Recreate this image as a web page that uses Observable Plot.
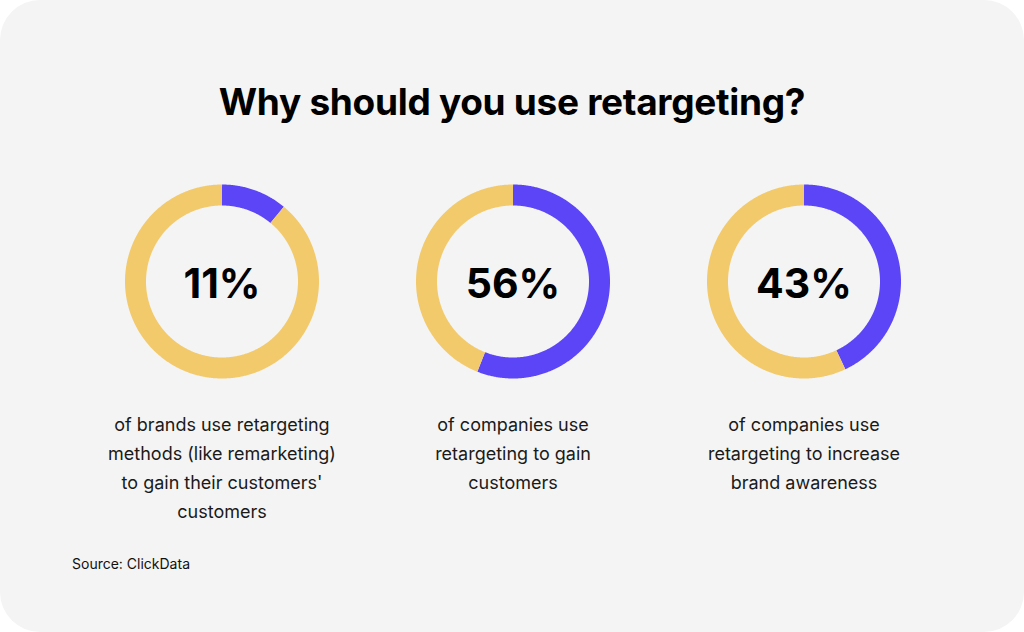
<!DOCTYPE html>
<html>
<head>
<meta charset="utf-8">
<script src="https://cdn.jsdelivr.net/npm/d3@7"></script>
<script src="https://cdn.jsdelivr.net/npm/@observablehq/plot@0.6"></script>
<style>
  html, body { margin: 0; padding: 0; background: #ffffff; }
  #card { position: relative; width: 1024px; height: 632px; background: #f4f4f4; border-radius: 40px; overflow: hidden; font-family: Inter, "Noto Sans", sans-serif; }
  #title { position: absolute; left: 0; right: 0; top: 83px; text-align: center; font-size: 37px; line-height: 1; font-weight: 700; color: #000; letter-spacing: -0.3px; }
  #chart { position: absolute; left: 0; top: 150px; }
  #source { position: absolute; left: 72px; top: 557px; font-size: 14px; line-height: 1; color: #111; }
</style>
</head>
<body>
<div id="card">
  <div id="title">Why should you use retargeting?</div>
  <div id="chart"></div>
  <div id="source">Source: ClickData</div>
</div>
<script>
// ---- data ----
const categories = ["brands", "gain", "awareness"];
const percents = [11, 56, 43];
const captions = [
  "of brands use retargeting\nmethods (like remarketing)\nto gain their customers'\ncustomers",
  "of companies use\nretargeting to gain\ncustomers",
  "of companies use\nretargeting to increase\nbrand awareness"
];
const parts = ["share", "rest"];
const partColors = ["#5b45f6", "#f2ca6b"];

// ---- build table ----
const stats = categories.map((c, i) => ({cat: c, pct: percents[i], caption: captions[i]}));

// arc points sampled along each segment (clockwise from 12 o'clock)
const R = 86.5; // radius of stroke centre line, in pixel units of the scales
const arcs = [];
for (const s of stats) {
  const segs = [["share", 0, s.pct], ["rest", s.pct, 100]];
  for (const [part, a0, a1] of segs) {
    const n = Math.max(2, Math.ceil((a1 - a0) * 3.6 * 2));
    for (let k = 0; k <= n; k++) {
      const t = (a0 + (a1 - a0) * k / n) / 100 * 2 * Math.PI;
      arcs.push({cat: s.cat, part, key: s.cat + part, x: R * Math.sin(t), y: R * Math.cos(t)});
    }
  }
}

const H = 380;
const chart = Plot.plot({
  width: 1024,
  height: H,
  marginTop: 0, marginBottom: 0, marginLeft: 75.5, marginRight: 75.5,
  style: {background: "transparent", fontFamily: "Inter, 'Noto Sans', sans-serif", overflow: "visible"},
  fx: {domain: categories, padding: 0, axis: null},
  x: {domain: [-145.5, 145.5], axis: null},
  y: {domain: [-(H - 131), 131], axis: null},
  color: {domain: parts, range: partColors},
  marks: [
    Plot.line(arcs, {fx: "cat", x: "x", y: "y", z: "key", stroke: "part", strokeWidth: 21, strokeLinecap: "butt", strokeLinejoin: "round"}),
    Plot.text(stats, {fx: "cat", frameAnchor: "top", dy: 134, text: d => d.pct + "%", fontSize: 41, fontWeight: 700, fill: "#000", lineAnchor: "middle"}),
    Plot.text(stats, {fx: "cat", frameAnchor: "top", dy: 260, text: "caption", fontSize: 18, lineHeight: 1.61, fill: "#1a1a1a", lineAnchor: "top"})
  ]
});
document.getElementById("chart").appendChild(chart);
</script>
</body>
</html>
